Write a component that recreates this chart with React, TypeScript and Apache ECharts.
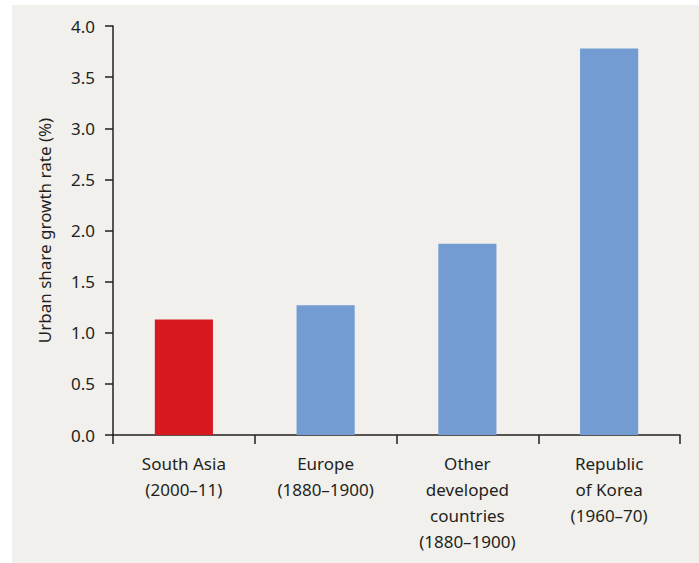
import React, { useEffect, useRef } from "react";
import * as echarts from "echarts";

const categories = [
  "South Asia\n(2000–11)",
  "Europe\n(1880–1900)",
  "Other\ndeveloped\ncountries\n(1880–1900)",
  "Republic\nof Korea\n(1960–70)",
];
const values = [1.13, 1.27, 1.87, 3.78];
const barColors = ["#d7181f", "#729cd2", "#729cd2", "#729cd2"];
const yTicks = { min: 0, max: 4, interval: 0.5 };
const yAxisTitle = "Urban share growth rate (%)";

export default function App() {
  const ref = useRef<HTMLDivElement>(null);
  useEffect(() => {
    const chart = echarts.init(ref.current!, null, { renderer: "svg" });
    const font = "'Noto Sans', sans-serif";
    chart.setOption({
      animation: false,
      backgroundColor: "#ffffff",
      graphic: [
        {
          type: "rect",
          z: -10,
          silent: true,
          shape: { x: 12, y: 5, width: 699 - 12, height: 563 - 5 },
          style: { fill: "#f1f0ec" },
        },
      ],
      grid: { left: 113, right: 19, top: 26, bottom: 128, containLabel: false },
      xAxis: {
        type: "category",
        data: categories,
        axisLine: { show: true, lineStyle: { color: "#231f20", width: 1.5 } },
        axisTick: { show: true, length: 9, lineStyle: { color: "#231f20", width: 1.5 } },
        axisLabel: {
          color: "#231f20",
          fontFamily: font,
          fontSize: 17,
          lineHeight: 26,
          margin: 15,
          interval: 0,
        },
      },
      yAxis: {
        type: "value",
        min: yTicks.min,
        max: yTicks.max,
        interval: yTicks.interval,
        name: yAxisTitle,
        nameLocation: "middle",
        nameGap: 60,
        nameTextStyle: { color: "#231f20", fontFamily: font, fontSize: 17 },
        splitLine: { show: false },
        axisLine: { show: true, lineStyle: { color: "#231f20", width: 1.5 } },
        axisTick: { show: true, length: 8, lineStyle: { color: "#231f20", width: 1.5 } },
        axisLabel: {
          color: "#231f20",
          fontFamily: font,
          fontSize: 17,
          margin: 18,
          formatter: (v: number) => v.toFixed(1),
        },
      },
      series: [
        {
          type: "bar",
          barWidth: "41%",
          data: values.map((v, i) => ({ value: v, itemStyle: { color: barColors[i] } })),
        },
      ],
    });
    return () => chart.dispose();
  }, []);
  return (
    <div
      ref={ref}
      style={{ position: "absolute", left: 0, top: 0, width: 699, height: 563 }}
    />
  );
}
